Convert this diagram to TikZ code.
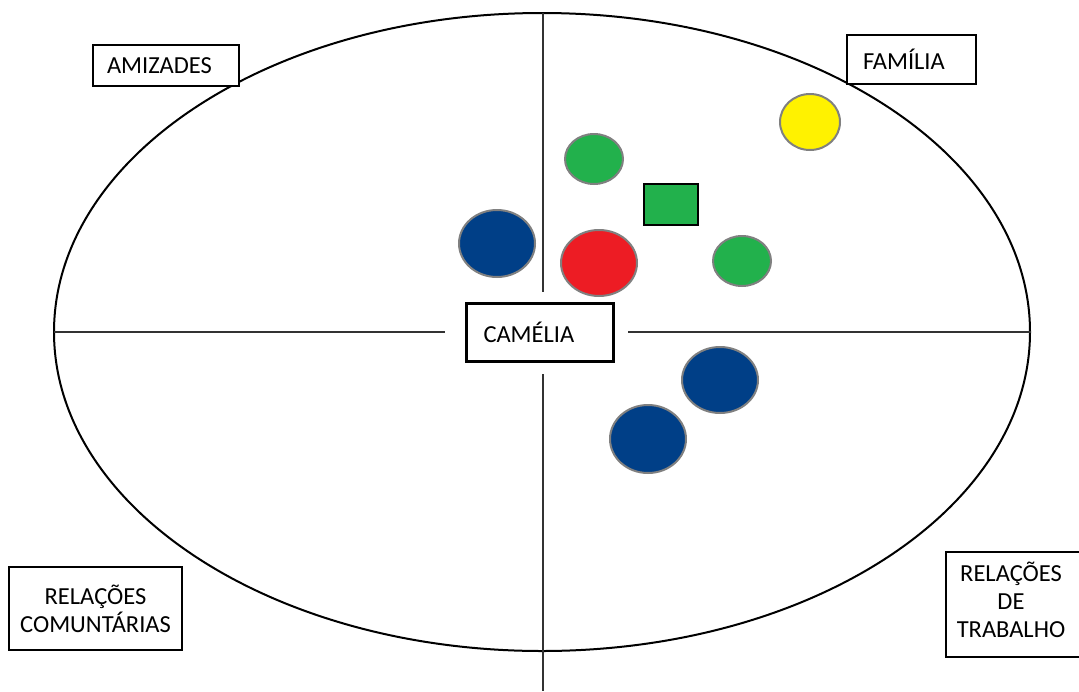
\documentclass[tikz,border=0pt]{standalone}
\usepackage{fontspec}
\setmainfont{Carlito}
\usetikzlibrary{shapes.geometric}
\definecolor{cblue}{RGB}{0,63,135}
\definecolor{cred}{RGB}{237,28,36}
\definecolor{cgreen}{RGB}{34,177,76}
\definecolor{cyellow}{RGB}{255,242,0}
\definecolor{cgray}{RGB}{128,128,128}
\definecolor{axis}{RGB}{50,50,50}
\tikzset{
  lbl/.style={draw=black, line width=2pt, fill=white, rectangle, inner sep=0pt,
    font=\fontsize{24.5}{28}\selectfont},
  dot/.style={ellipse, draw=cgray, line width=2pt, inner sep=0pt},
  axisline/.style={draw=axis, line width=2pt},
}
\begin{document}
\begin{tikzpicture}[x=1pt,y=-1pt]
\clip (0,0) rectangle (1079,691);
\fill[white] (0,0) rectangle (1079,691);
% big ellipse
\draw[line width=2pt] (542,332) ellipse [x radius=488, y radius=319];
% axis end points
\coordinate (vt) at (543,13);
\coordinate (vb) at (543,691);
\coordinate (hl) at (54,332);
\coordinate (hr) at (1031,332);
% center box
\node[lbl, line width=3pt, minimum width=147pt, minimum height=58pt, align=left,
  text width=112pt] (cam) at (539.5,332) {\raisebox{-1pt}{CAMÉLIA}};
\coordinate (camT) at (543,292);
\coordinate (camB) at (543,374);
\coordinate (camL) at (445,332);
\coordinate (camR) at (628,332);
\draw[axisline] (vt) -- (camT);
\draw[axisline] (camB) -- (vb);
\draw[axisline] (hl) -- (camL);
\draw[axisline] (camR) -- (hr);
% corner labels
\node[lbl, minimum width=146pt, minimum height=41pt, align=left, text width=118pt]
  (ami) at (166,65.5) {\raisebox{-3pt}{AMIZADES}};
\node[lbl, minimum width=129pt, minimum height=49pt, align=left, text width=97pt]
  (fam) at (911.5,59.5) {\raisebox{-2pt}{FAMÍLIA}};
\node[lbl, minimum width=173pt, minimum height=83pt, align=center]
  (com) at (95.5,608.5) {\raisebox{3pt}{\parbox{173pt}{\centering RELAÇÕES\\COMUNTÁRIAS}}};
\node[lbl, minimum width=150pt, minimum height=105pt, anchor=west]
  (trab) at (945,604.5) {};
\node[font=\fontsize{24.5}{28}\selectfont, align=center, inner sep=0pt]
  (trabt) at (1011,600) {RELAÇÕES\\DE\\TRABALHO};
% people
\node[dot, fill=cyellow, minimum width=60pt, minimum height=56pt] (y1) at (810,122) {};
\node[dot, fill=cgreen, minimum width=58pt, minimum height=50pt] (g1) at (594,159) {};
\node[draw=black, line width=2pt, fill=cgreen, minimum width=54pt, minimum height=41pt, inner sep=0pt] (gr) at (671,204.5) {};
\node[dot, fill=cblue, minimum width=76pt, minimum height=67pt] (b1) at (497,243.5) {};
\node[dot, fill=cred, minimum width=76pt, minimum height=66pt] (r1) at (599,263) {};
\node[dot, fill=cgreen, minimum width=58pt, minimum height=50pt] (g2) at (742,261) {};
\node[dot, fill=cblue, minimum width=76pt, minimum height=66pt] (b2) at (720,380) {};
\node[dot, fill=cblue, minimum width=76pt, minimum height=68pt] (b3) at (648,439) {};
\end{tikzpicture}
\end{document}
